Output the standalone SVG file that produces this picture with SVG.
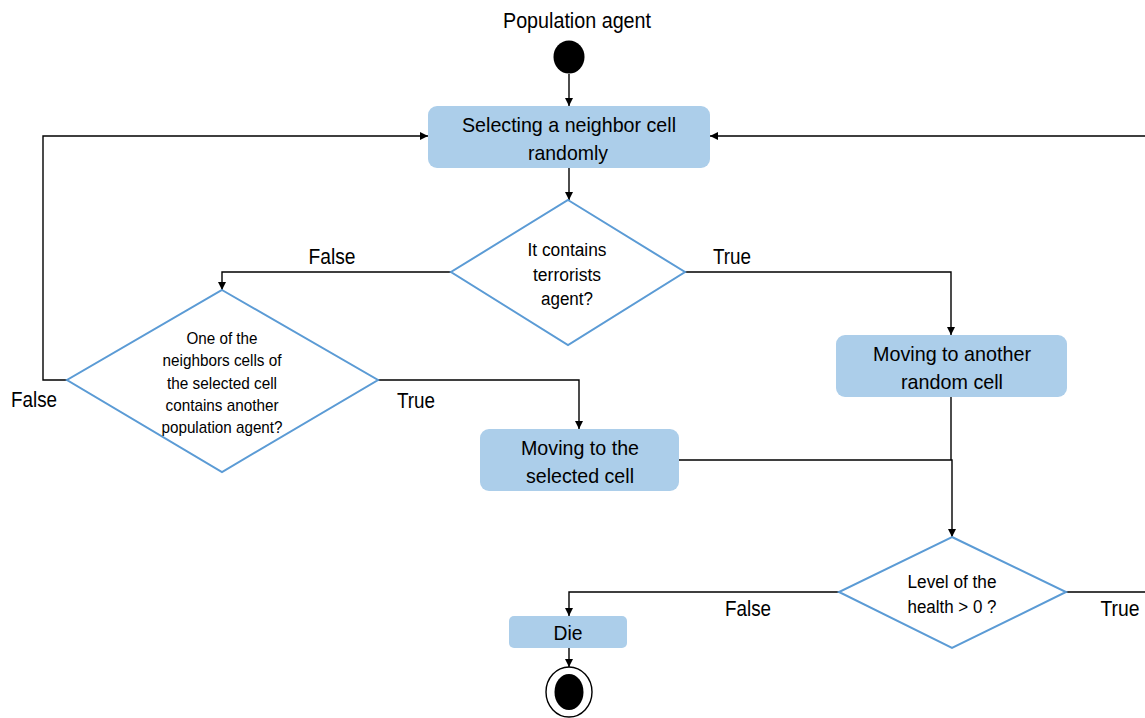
<svg xmlns="http://www.w3.org/2000/svg" width="1145" height="718" viewBox="0 0 1145 718">
<style>
  text { font-family: "Liberation Sans", Arial, sans-serif; fill: #000; text-anchor: middle; }
  .box { fill: #acceea; stroke: none; }
  .dia { fill: #fff; stroke: #5b9bd5; stroke-width: 2; }
  .conn path { fill: none; stroke: #000; stroke-width: 1.4; }
  .t22 { font-size: 21px; }
  .t18 { font-size: 18px; }
  .t17 { font-size: 17px; }
  .lbl { font-size: 22px; }
</style>
<defs>
  <marker id="arr" viewBox="0 0 10 10" refX="10" refY="5" markerWidth="8" markerHeight="8" markerUnits="userSpaceOnUse" orient="auto">
    <path d="M0,0 L10,5 L0,10 z" fill="#000"/>
  </marker>
</defs>

<g id="title"><text class="lbl" x="577" y="28" textLength="148" lengthAdjust="spacingAndGlyphs">Population agent</text></g>

<g class="conn" id="connectors">
  <path d="M569,74 L569,106" marker-end="url(#arr)"/>
  <path d="M569,168 L569,200" marker-end="url(#arr)"/>
  <path d="M451,272 L222,272 L222,290" marker-end="url(#arr)"/>
  <path d="M685,272 L951,272 L951,335" marker-end="url(#arr)"/>
  <path d="M67,380 L43,380 L43,136 L428,136" marker-end="url(#arr)"/>
  <path d="M378,380 L579,380 L579,429" marker-end="url(#arr)"/>
  <path d="M951,397 L951,460"/>
  <path d="M679,460 L952,460 L952,537" marker-end="url(#arr)"/>
  <path d="M839,592 L569,592 L569,616" marker-end="url(#arr)"/>
  <path d="M569,648 L569,667" marker-end="url(#arr)"/>
  <path d="M1066,592 L1150,592 L1150,136 L710,136" marker-end="url(#arr)"/>
</g>

<g id="start"><ellipse cx="569" cy="57" rx="15.5" ry="16.5" fill="#000"/></g>

<g id="select">
  <rect class="box" x="428" y="106" width="282" height="62" rx="9"/>
  <text class="t22" x="569" y="132" textLength="214" lengthAdjust="spacingAndGlyphs">Selecting a neighbor cell</text>
  <text class="t22" x="568" y="160" textLength="80" lengthAdjust="spacingAndGlyphs">randomly</text>
</g>

<g id="dec1">
  <polygon class="dia" points="568,200 685,272 568,345 451,272"/>
  <text class="t18" x="567" y="256" textLength="79" lengthAdjust="spacingAndGlyphs">It contains</text>
  <text class="t18" x="567" y="281" textLength="68" lengthAdjust="spacingAndGlyphs">terrorists</text>
  <text class="t18" x="567" y="305" textLength="52" lengthAdjust="spacingAndGlyphs">agent?</text>
</g>

<g id="dec2">
  <polygon class="dia" points="222,290 378,380 222,472 67,380"/>
  <text class="t17" x="222" y="344" textLength="71" lengthAdjust="spacingAndGlyphs">One of the</text>
  <text class="t17" x="222" y="366" textLength="119" lengthAdjust="spacingAndGlyphs">neighbors cells of</text>
  <text class="t17" x="222" y="389" textLength="110" lengthAdjust="spacingAndGlyphs">the selected cell</text>
  <text class="t17" x="222" y="411" textLength="113" lengthAdjust="spacingAndGlyphs">contains another</text>
  <text class="t17" x="222" y="433" textLength="121" lengthAdjust="spacingAndGlyphs">population agent?</text>
</g>

<g id="moveRandom">
  <rect class="box" x="836" y="335" width="231" height="62" rx="9"/>
  <text class="t22" x="952" y="361" textLength="158" lengthAdjust="spacingAndGlyphs">Moving to another</text>
  <text class="t22" x="952" y="389" textLength="102" lengthAdjust="spacingAndGlyphs">random cell</text>
</g>

<g id="moveSelected">
  <rect class="box" x="480" y="429" width="199" height="62" rx="9"/>
  <text class="t22" x="580" y="455" textLength="118" lengthAdjust="spacingAndGlyphs">Moving to the</text>
  <text class="t22" x="580" y="483" textLength="108" lengthAdjust="spacingAndGlyphs">selected cell</text>
</g>

<g id="dec3">
  <polygon class="dia" points="952,537 1066,592 952,648 839,592"/>
  <text class="t18" x="952" y="588" textLength="89" lengthAdjust="spacingAndGlyphs">Level of the</text>
  <text class="t18" x="952" y="613" textLength="89" lengthAdjust="spacingAndGlyphs">health &gt; 0 ?</text>
</g>

<g id="die">
  <rect class="box" x="509" y="616" width="118" height="32" rx="5"/>
  <text class="t22" x="568" y="640" textLength="29" lengthAdjust="spacingAndGlyphs">Die</text>
</g>

<g id="end">
  <ellipse cx="569" cy="692" rx="23" ry="25" fill="#fff" stroke="#000" stroke-width="1.4"/>
  <ellipse cx="569" cy="692" rx="14.5" ry="18" fill="#000"/>
</g>

<g id="labels">
  <text class="lbl" x="332" y="264" textLength="47" lengthAdjust="spacingAndGlyphs">False</text>
  <text class="lbl" x="732" y="264" textLength="38" lengthAdjust="spacingAndGlyphs">True</text>
  <text class="lbl" x="34" y="407" textLength="46" lengthAdjust="spacingAndGlyphs">False</text>
  <text class="lbl" x="416" y="408" textLength="38" lengthAdjust="spacingAndGlyphs">True</text>
  <text class="lbl" x="748" y="616" textLength="46" lengthAdjust="spacingAndGlyphs">False</text>
  <text class="lbl" x="1120" y="616" textLength="39" lengthAdjust="spacingAndGlyphs">True</text>
</g>
</svg>
